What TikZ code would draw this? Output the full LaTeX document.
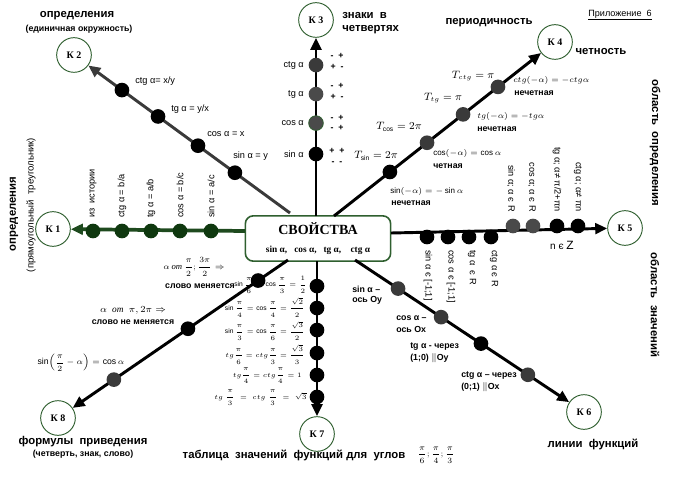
\documentclass[tikz,border=0pt]{standalone}
\usepackage{amsmath}
\usepackage{exscale}
\usepackage{fontspec}
\setmainfont{Liberation Sans}
\newfontfamily\serif{Liberation Serif}
\usetikzlibrary{arrows.meta,calc}
\definecolor{kgreen}{HTML}{2F5F2F}
\definecolor{lgreen}{HTML}{1E4A1E}
\definecolor{dgreen}{HTML}{0F380F}
\definecolor{dgray}{HTML}{3A3A3A}
\definecolor{mgray}{HTML}{4A4A4A}
\tikzset{
  kc/.style={circle, draw=kgreen, line width=0.7pt, fill=white, minimum size=26pt, inner sep=0pt,
    font=\serif\bfseries\fontsize{7.5}{8}\selectfont},
  dot/.style={circle, fill=black, minimum size=11pt, inner sep=0pt},
  lab/.style={font=\fontsize{6.9}{8}\selectfont, inner sep=0pt},
  blab/.style={font=\bfseries\fontsize{6.6}{7.5}\selectfont, inner sep=0pt},
  head/.style={font=\bfseries\fontsize{8.5}{9.5}\selectfont, inner sep=0pt},
  mth/.style={font=\fontsize{6}{7}\selectfont, inner sep=0pt},
  mlab/.style={font=\fontsize{5}{6}\selectfont, inner sep=0pt},
  conn/.style={line width=2.2pt, -{Triangle[length=9pt,width=8pt]}},
}
\begin{document}
\begin{tikzpicture}[x=0.75pt,y=-0.75pt]
\useasboundingbox (0,0) rectangle (673,477);

% central box
\node[draw=kgreen, line width=1.2pt, rounded corners=6pt, fill=white, minimum width=109pt, minimum height=34pt, align=center, inner sep=1pt]
  (sv) at (318,238.5) {{\serif\bfseries\fontsize{10.5}{12}\selectfont СВОЙСТВА}\\[1pt]
  {\serif\bfseries\fontsize{7}{8}\selectfont sin α,\ \ \ cos α,\ \ \ tg α,\ \ \ \ ctg α}};

% K nodes
\node[kc] (K1) at (53,229) {К 1};
\node[kc] (K2) at (74,55) {К 2};
\node[kc] (K3) at (316,20) {К 3};
\node[kc] (K4) at (555,42) {К 4};
\node[kc] (K5) at (625,228) {К 5};
\node[kc] (K6) at (584,412) {К 6};
\node[kc] (K7) at (317,434) {К 7};
\node[kc] (K8) at (58,418) {К 8};

% start points on the box
\coordinate (s1) at (245,231);
\coordinate (s2) at (290,213);
\coordinate (s3) at (316,216);
\coordinate (s4) at (334,216);
\coordinate (s5) at (391,233);
\coordinate (s6) at (355,260);
\coordinate (s7) at (317,261);
\coordinate (s8) at (288,260);

% connectors
\draw[conn, lgreen, line width=2.8pt] (s1) -- (K1);
\draw[conn, dgray] (s2) -- (K2);
\draw[conn] (s3) -- (K3);
\draw[conn] (s4) -- (K4);
\draw[conn] (s5) -- (K5);
\draw[conn] (s6) -- (K6);
\draw[conn] (s7) -- (K7);
\draw[conn] (s8) -- (K8);

% K1 dots and labels
\foreach \x/\t in {93/{из\ \ истории},122/{ctg α = b/a},151/{tg α = a/b},180/{cos α = b/c},211/{sin α = a/c}}{
  \node[dot, fill=dgreen] at (\x,231) {};
  \node[lab, rotate=90, anchor=west] at (\x,218) {\t};
}
\node[head, rotate=90] (t1a) at (14,214) {определения};
\node[lab, font=\fontsize{7.2}{8}\selectfont, rotate=90] (t1b) at (31,205) {(прямоугольный\ \ треугольник)};

% K2 dots and labels
\node[dot] at ($(s2)!0.255!(K2)$) {};
\node[dot] at ($(s2)!0.426!(K2)$) {};
\node[dot] at ($(s2)!0.611!(K2)$) {};
\node[dot] at ($(s2)!0.778!(K2)$) {};
\node[lab, anchor=west] at (135,81) {ctg α= x/y};
\node[lab, anchor=west] at (171,109) {tg α = y/x};
\node[lab, anchor=west] at (207,134) {cos α = x};
\node[lab, anchor=west] at (233,156) {sin α = y};
\node[head] at (77,16) {определения};
\node[blab] at (79,29) {(единичная окружность)};

% K3 dots and labels
\node[dot] at ($(s3)!0.316!(K3)$) {};
\node[dot, fill=mgray, draw=kgreen, line width=0.6pt] at ($(s3)!0.474!(K3)$) {};
\node[dot, fill=mgray] at ($(s3)!0.622!(K3)$) {};
\node[dot, fill=dgray] at ($(s3)!0.770!(K3)$) {};
\node[lab, anchor=east] at (304,65) {ctg α};
\node[lab, anchor=east] at (304,94) {tg α};
\node[lab, anchor=east] at (304,123) {cos α};
\node[lab, anchor=east] at (304,154) {sin α};
\foreach \y/\s in {56/{-\ \ +},67/{+\ \ -},86/{-\ \ +},97/{+\ \ -},118/{-\ \ +},128/{-\ \ +},151/{+\ \ +},163/{-\ \ -}}{
  \node[blab] at (337,\y) {\s};
}
\node[head, anchor=west] at (342,16) {знаки\ \ в};
\node[head, anchor=west] at (342,30) {четвертях};

% K4 dots and labels
\node[dot] at ($(s4)!0.253!(K4)$) {};
\node[dot, fill=dgray] at ($(s4)!0.421!(K4)$) {};
\node[dot, fill=dgray] at ($(s4)!0.584!(K4)$) {};
\node[dot, fill=dgray] at ($(s4)!0.742!(K4)$) {};
\node[inner sep=0pt, font=\fontsize{8}{9}\selectfont] at (376,156) {$T_{\scriptscriptstyle\sin}=2\pi$};
\node[inner sep=0pt, font=\fontsize{8}{9}\selectfont] at (399,127) {$T_{\scriptscriptstyle\cos}=2\pi$};
\node[inner sep=0pt, font=\fontsize{8}{9}\selectfont] at (443,98) {$T_{\scriptscriptstyle tg}=\pi$};
\node[inner sep=0pt, font=\fontsize{8}{9}\selectfont] at (473,76) {$T_{\scriptscriptstyle ctg}=\pi$};
\node[mth, anchor=west] at (390,191) {$\sin\!\left(-\alpha\right)=-\sin\alpha$};
\node[blab, anchor=west] at (391,203) {нечетная};
\node[mth, anchor=west] at (433,154) {$\cos\!\left(-\alpha\right)=\cos\alpha$};
\node[blab, anchor=west] at (433,166) {четная};
\node[mth, anchor=west] at (477,117) {$tg\!\left(-\alpha\right)=-tg\alpha$};
\node[blab, anchor=west] at (477,129) {нечетная};
\node[mth, anchor=west] at (513,81) {$ctg\!\left(-\alpha\right)=-ctg\alpha$};
\node[blab, anchor=west] at (514,93) {нечетная};
\node[head] at (489,23) {периодичность};
\node[head] at (601,52) {четность};
\node[lab, font=\fontsize{6.8}{8}\selectfont] at (620,15) {\underline{Приложение\ \ 6}};

% K5 dots and labels
\foreach \x in {427,448,469,491}{ \node[dot] at (\x,237) {}; }
\node[dot, fill=mgray] at (513,226) {};
\node[dot, fill=mgray] at (533,226) {};
\node[dot] at (557,226) {};
\node[dot] at (578,226) {};
\node[lab, rotate=-90, anchor=east] at (511,212) {sin α; α є R};
\node[lab, rotate=-90, anchor=east] at (532,212) {cos α; α є R};
\node[lab, rotate=-90, anchor=east] at (557,212) {tg α; α≠ π/2+πn};
\node[lab, rotate=-90, anchor=east] at (578,212) {ctg α; α≠ πn};
\node[lab, rotate=-90, anchor=west] at (428,250) {sin α є [-1;1]};
\node[lab, rotate=-90, anchor=west] at (451,250) {cos α є [-1;1]};
\node[lab, rotate=-90, anchor=west] at (472,250) {tg α\ \ є R};
\node[lab, rotate=-90, anchor=west] at (494,250) {ctg α є R};
\node[lab, font=\fontsize{7.5}{8}\selectfont] at (562,245) {n є {\fontsize{9}{9}\selectfont Z}};
\node[head, rotate=-90] at (655,143) {область\ \ определения};
\node[head, rotate=-90] at (655,305) {область\ \ значений};

% K6 dots and labels
\node[dot, fill=dgray] at ($(s6)!0.188!(K6)$) {};
\node[dot, fill=dgray] at ($(s6)!0.376!(K6)$) {};
\node[dot] at ($(s6)!0.55!(K6)$) {};
\node[dot, fill=dgray] at ($(s6)!0.755!(K6)$) {};
\node[blab, anchor=west] at (352,289) {sin α –};
\node[blab, anchor=west] at (352,300) {ось Oy};
\node[blab, anchor=west] at (396,318) {cos α –};
\node[blab, anchor=west] at (396,329) {ось Ox};
\node[blab, anchor=west] at (410,347) {tg α - через};
\node[blab, anchor=west] at (410,358) {(1;0) $\Vert$Oy};
\node[blab, anchor=west] at (461,376) {ctg α – через};
\node[blab, anchor=west] at (461,387) {(0;1) $\Vert$Ox};
\node[head] at (593,444) {линии\ \ функций};

% K7 dots and labels
\foreach \t in {0.145,0.272,0.399,0.532,0.659,0.786}{
  \node[dot] at ($(s7)!\t!(K7)$) {};
}
\node[mlab, anchor=east] at (307,285) {$\sin\dfrac{\pi}{6}=\cos\dfrac{\pi}{3}=\dfrac{1}{2}$};
\node[mlab, anchor=east] at (305,307.5) {$\sin\dfrac{\pi}{4}=\cos\dfrac{\pi}{4}=\dfrac{\sqrt{2}}{2}$};
\node[mlab, anchor=east] at (305,331) {$\sin\dfrac{\pi}{3}=\cos\dfrac{\pi}{6}=\dfrac{\sqrt{3}}{2}$};
\node[mlab, anchor=east] at (305,354.5) {$tg\dfrac{\pi}{6}=ctg\dfrac{\pi}{3}=\dfrac{\sqrt{3}}{3}$};
\node[mlab, anchor=east] at (302,376) {$tg\dfrac{\pi}{4}=ctg\dfrac{\pi}{4}=1$};
\node[mlab, anchor=east] at (307,398) {$tg\;\dfrac{\pi}{3}\;=\;ctg\;\dfrac{\pi}{3}\;=\;\sqrt{3}$};
\node[head] at (294,455) {таблица\ \ значений\ \ функций для\ \ углов};
\node[inner sep=0pt, font=\fontsize{6}{7}\selectfont] at (436,455) {$\dfrac{\pi}{6};\dfrac{\pi}{4};\dfrac{\pi}{3}$};

% K8 dots and labels
\node[dot] at ($(s8)!0.13!(K8)$) {};
\node[dot] at ($(s8)!0.435!(K8)$) {};
\node[dot, fill=dgray] at ($(s8)!0.757!(K8)$) {};
\node[inner sep=0pt, font=\fontsize{6.5}{7}\selectfont] at (194,267) {$\alpha\,\mbox{\serif\itshape от}\,\dfrac{\pi}{2};\dfrac{3\pi}{2}\Rightarrow$};
\node[blab] at (200,286) {слово меняется};
\node[inner sep=0pt, font=\fontsize{7}{8}\selectfont] at (133,310) {$\alpha\ \ \mbox{\serif\itshape от}\ \ \pi,2\pi\Rightarrow$};
\node[blab] at (133,322) {слово не меняется};
\node[inner sep=0pt, font=\fontsize{6.5}{7}\selectfont] at (81,363) {$\sin\!\left(\dfrac{\pi}{2}-\alpha\right)=\cos\alpha$};
\node[head] at (83,442) {формулы\ \ приведения};
\node[blab] at (83,454) {(четверть, знак, слово)};
\end{tikzpicture}
\end{document}
